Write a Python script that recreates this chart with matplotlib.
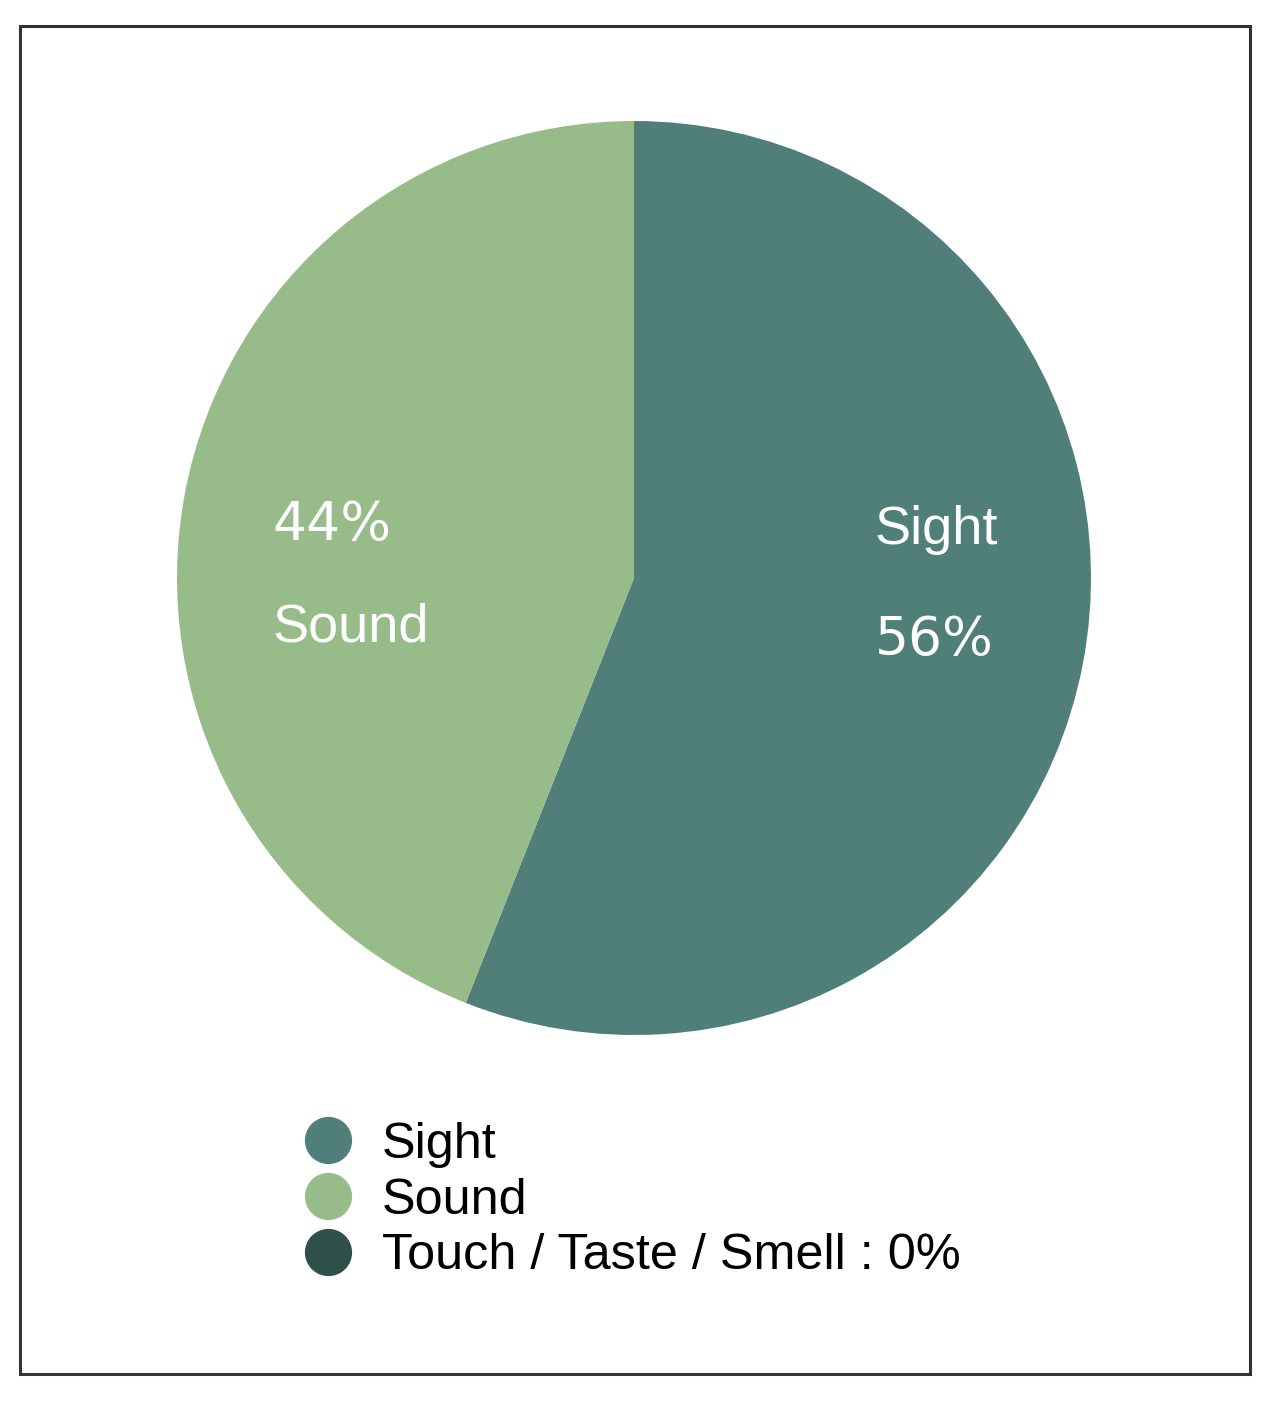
import matplotlib.pyplot as plt
from matplotlib.lines import Line2D
from matplotlib.patches import Rectangle

plt.rcParams['font.family'] = ['Liberation Sans', 'DejaVu Sans']

labels = ['Sight', 'Sound', 'Touch / Taste / Smell']
values = [56, 44, 0]
colors = ['#4f7f78', '#97bc8a', '#2e4f4a']

W, H = 1274, 1405
fig = plt.figure(figsize=(W / 100, H / 100), dpi=100)

# outer frame
fig.patches.append(Rectangle((20 / W, 1 - 1374 / H), 1230 / W, 1348 / H,
                             transform=fig.transFigure, fill=False,
                             edgecolor='#333333', linewidth=2.2))

cx, cy, r = 634, 578, 457
ax = fig.add_axes([(cx - r) / W, 1 - (cy + r) / H, 2 * r / W, 2 * r / H])
ax.pie(values, colors=colors, startangle=90, counterclock=False,
       wedgeprops=dict(linewidth=0))
ax.set_xlim(-1, 1)
ax.set_ylim(-1, 1)
ax.set_aspect('equal')
ax.axis('off')

# slice labels
pct_font = dict(color='white', fontsize=38.5, va='center', ha='left', family='DejaVu Sans')
ax.text(0.527, 0.105, labels[0], color='white', fontsize=39, va='center', ha='left')
ax.text(0.527, -0.136, f'{values[0]}%', **pct_font)
ax.text(-0.792, 0.116, f'{values[1]}%', **pct_font)
ax.text(-0.792, -0.109, labels[1], color='white', fontsize=39, va='center', ha='left')

handles = [Line2D([], [], marker='o', linestyle='', markersize=33,
                  markerfacecolor=c, markeredgecolor=c) for c in colors]
leg_labels = [labels[0], labels[1], f'{labels[2]} : {values[2]}%']
fig.legend(handles, leg_labels, loc='upper left',
           bbox_to_anchor=(303 / W, 1 - 1122 / H), frameon=False,
           fontsize=36.3, labelspacing=0.19, handletextpad=0.56,
           handlelength=1.0, borderpad=0, borderaxespad=0)

fig.savefig('out.png', dpi=100)
